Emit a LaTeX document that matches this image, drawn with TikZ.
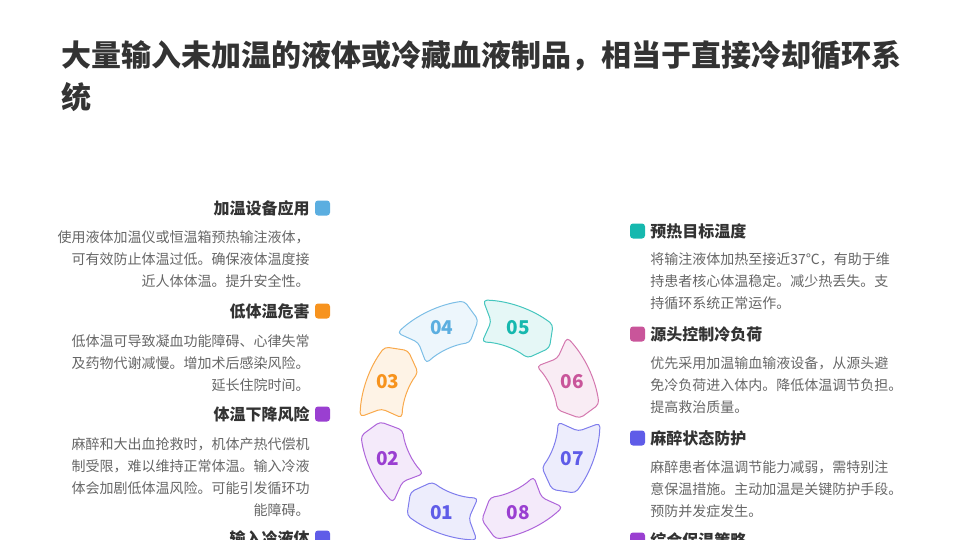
\documentclass[tikz,border=0pt]{standalone}
\usepackage{fontspec}
\setmainfont{Noto Sans CJK SC}
\usetikzlibrary{positioning}
\definecolor{cindigo}{HTML}{5F5CE8}
\definecolor{cpurple}{HTML}{9A3FD1}
\definecolor{corange}{HTML}{F7931E}
\definecolor{csky}{HTML}{5BAEE0}
\definecolor{cteal}{HTML}{16B8AE}
\definecolor{cpink}{HTML}{C9559A}
\definecolor{textdark}{HTML}{333333}
\definecolor{textgrey}{HTML}{666666}
\tikzset{
  titletext/.style={font=\fontsize{30}{42}\selectfont\bfseries, text=textdark, inner sep=0pt, align=left},
  heading/.style={font=\fontsize{16}{20}\selectfont\bfseries, text=textdark, inner sep=0pt},
  desc/.style={font=\fontsize{14}{22}\selectfont, text=textgrey, inner sep=0pt},
  marker/.style={fill=#1, rounded corners=3pt, minimum size=15pt, inner sep=0pt},
  segment/.style={draw=#1!80, fill=#1!11, line width=1pt, rounded corners=4pt, line join=round},
  seglabel/.style={text=#1, font=\fontsize{19}{19}\selectfont\bfseries, inner sep=0pt}
}
\begin{document}
\begin{tikzpicture}[x=1pt, y=-1pt]
\useasboundingbox (0,0) rectangle (960,540);
\clip (0,0) rectangle (960,540);
\node[titletext, anchor=north west] (title) at (61,40) {大量输入未加温的液体或冷藏血液制品，相当于直接冷却循环系\\统};

% left column
\node[marker=csky] (m4) at (322.5,208) {};
\node[heading, left=5pt of m4] (h4) {加温设备应用};
\node[desc, align=right, anchor=north east] (d4) at ([yshift=-14pt]h4.south east) {使用液体加温仪或恒温箱预热输注液体，\\可有效防止体温过低。确保液体温度接\\近人体体温。提升安全性。};
\node[marker=corange] (m3) at (322.5,311) {};
\node[heading, left=5pt of m3] (h3) {低体温危害};
\node[desc, align=right, anchor=north east] (d3) at ([yshift=-16pt]h3.south east) {低体温可导致凝血功能障碍、心律失常\\及药物代谢减慢。增加术后感染风险。\\延长住院时间。};
\node[marker=cpurple] (m2) at (322.5,414) {};
\node[heading, left=5pt of m2] (h2) {体温下降风险};
\node[desc, align=right, anchor=north east] (d2) at ([yshift=-15pt]h2.south east) {麻醉和大出血抢救时，机体产热代偿机\\制受限，难以维持正常体温。输入冷液\\体会加剧低体温风险。可能引发循环功\\能障碍。};
\node[marker=cindigo] (m1) at (322.5,538) {};
\node[heading, left=5pt of m1] (h1) {输入冷液体};

% right column
\node[marker=cteal] (m5) at (637.5,231) {};
\node[heading, right=5pt of m5] (h5) {预热目标温度};
\node[desc, align=left, anchor=north west] (d5) at ([yshift=-14pt]h5.south west) {将输注液体加热至接近37℃，有助于维\\持患者核心体温稳定。减少热丢失。支\\持循环系统正常运作。};
\node[marker=cpink] (m6) at (637.5,334) {};
\node[heading, right=5pt of m6] (h6) {源头控制冷负荷};
\node[desc, align=left, anchor=north west] (d6) at ([yshift=-15pt]h6.south west) {优先采用加温输血输液设备，从源头避\\免冷负荷进入体内。降低体温调节负担。\\提高救治质量。};
\node[marker=cindigo] (m7) at (637.5,438) {};
\node[heading, right=5pt of m7] (h7) {麻醉状态防护};
\node[desc, align=left, anchor=north west] (d7) at ([yshift=-15pt]h7.south west) {麻醉患者体温调节能力减弱，需特别注\\意保温措施。主动加温是关键防护手段。\\预防并发症发生。};
\node[marker=cpurple] (m8) at (637.5,540) {};
\node[heading, right=5pt of m8] (h8) {综合保温策略};

% ring
\begin{scope}[shift={(480,420)}]
\foreach \idx/\ang/\col in {01/112.5/cindigo, 02/157.5/cpurple, 03/202.5/corange, 04/247.5/csky, 05/292.5/cteal, 06/337.5/cpink, 07/382.5/cindigo, 08/427.5/cpurple}{
  \pgfmathsetmacro\ta{\ang-21}
  \pgfmathsetmacro\tn{\ang-16}
  \pgfmathsetmacro\hc{\ang+15}
  \pgfmathsetmacro\hp{\ang+21.5}
  \draw[segment=\col] (\ta:120) arc[start angle=\ta, end angle=\hc, radius=120] -- (\hp:100) -- (\hc:78) arc[start angle=\hc, end angle=\ta, radius=78] -- (\tn:99) -- cycle;
  \node[seglabel=\col] (s\idx) at (\ang:100) {\idx};
}
\end{scope}
\end{tikzpicture}
\end{document}
